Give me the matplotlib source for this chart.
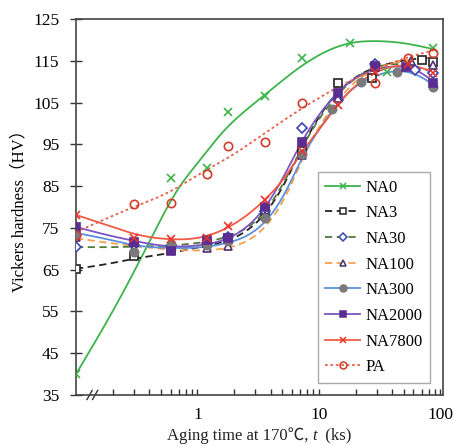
import numpy as np
import matplotlib
matplotlib.use("Agg")
import matplotlib.pyplot as plt
from matplotlib.lines import Line2D
from matplotlib.offsetbox import TextArea, HPacker, AnchoredOffsetbox

plt.rcParams['font.family'] = ['Liberation Serif', 'Noto Sans CJK JP', 'DejaVu Sans']

# t = 0 (as quenched) is drawn at the left end of the log axis
T0_POS = 0.1

# ---- measured points (aging time in ks, hardness in HV) ----
na0_t = [0, 0.6, 1.2, 1.8, 3.6, 7.2, 18, 36, 86.4]
na0_hv = [40.0, 87.0, 89.3, 102.7, 106.6, 115.7, 119.2, 112.3, 118.0]

na3_t = [0, 0.3, 0.6, 1.2, 1.8, 3.6, 7.2, 14.4, 27.5, 70, 86.4]
na3_hv = [65.2, 68.3, 69.8, 71.5, 72.5, 79.0, 93.5, 109.7, 110.9, 115.2, 114.7]

na30_t = [0, 0.3, 0.6, 1.2, 1.8, 3.6, 7.2, 14.4, 29, 62, 86.4]
na30_hv = [70.4, 70.9, 70.6, 71.5, 72.8, 79.0, 98.9, 105.6, 114.2, 112.8, 112.0]

na100_t = [0, 0.3, 0.6, 1.2, 1.8, 3.6, 7.2, 14.4, 28.8, 57.6, 86.4]
na100_hv = [72.8, 70.3, 70.0, 70.2, 70.7, 77.8, 92.4, 106.0, 113.5, 114.9, 114.0]

na300_t = [0, 0.3, 0.6, 1.2, 1.8, 3.6, 7.2, 12.7, 22, 44, 86.4]
na300_hv = [73.5, 69.2, 71.1, 70.9, 71.8, 77.4, 92.8, 103.5, 110.0, 112.3, 108.7]

na2000_t = [0, 0.3, 0.6, 1.2, 1.8, 3.6, 7.2, 14.4, 29, 52, 86.4]
na2000_hv = [75.2, 71.7, 69.5, 72.1, 72.6, 80.0, 95.6, 107.3, 113.8, 113.5, 109.7]

na7800_t = [0, 0.3, 0.6, 1.2, 1.8, 3.6, 7.2, 14.4, 29, 54, 86.4]
na7800_hv = [78.1, 72.6, 72.3, 72.5, 75.4, 81.7, 93.5, 104.4, 112.3, 114.2, 112.0]

pa_t = [0, 0.3, 0.6, 1.2, 1.8, 3.6, 7.2, 28.8, 54, 86.4]
pa_hv = [73.3, 80.7, 81.0, 87.9, 94.6, 95.6, 104.9, 109.7, 115.7, 116.9]

# ---- fitted curves ----
na0_fit_t = [0.1, 0.2, 0.3, 0.45, 0.7, 1.0, 1.6, 3.4, 7, 18, 30, 50, 90]
na0_fit_hv = [40, 55, 64.5, 74.5, 84.5, 90.5, 97.8, 106.3, 113.5, 119.2, 119.7, 119.2, 117.7]

pa_fit_t = [0.1, 0.3, 0.62, 1.0, 1.83, 3.6, 6.9, 14, 27, 50, 90]
pa_fit_hv = [74, 80, 84, 87.6, 92, 97.7, 103.2, 108.5, 112.5, 115.5, 117.6]

fit_t = [0.1, 0.2, 0.3, 0.6, 1.0, 1.8, 3.6, 5.5, 7.2, 10, 14.4, 20, 30, 45, 65, 90]
na3_fit = [65.2, 66.6, 67.6, 69.0, 70.3, 72.1, 78.5, 87, 94, 101.5, 107.5, 111, 113.5, 114.8, 115.5, 115.8]
na30_fit = [70.4, 70.4, 70.5, 70.8, 71.4, 73, 79, 87.5, 94, 101, 107, 110.8, 113.5, 114.2, 113.5, 112]
na100_fit = [72.5, 71.3, 70.7, 69.8, 69.6, 70.3, 75.3, 83.5, 91, 99, 105.5, 110, 113, 114.8, 115.4, 115.6]
na300_fit = [73.8, 72.0, 70.9, 70.2, 70.3, 71.5, 76.5, 84.5, 91.5, 98.5, 104.8, 108.8, 111.5, 112.5, 111.5, 109]
na2000_fit = [75.2, 73.0, 71.9, 70.6, 70.8, 72.6, 80, 89, 95.5, 102, 107.5, 110.8, 113, 113.6, 112.5, 109.8]
na7800_fit = [78.1, 75.2, 73.6, 72.3, 72.6, 75.2, 81.8, 88, 93, 98.5, 104.5, 109, 112.3, 113.8, 113.5, 112.2]


def smooth(t, v, n=300):
    # natural cubic spline in log10(t)
    x = np.log10(np.asarray(t, float))
    y = np.asarray(v, float)
    m = len(x)
    h = np.diff(x)
    A = np.zeros((m, m))
    r = np.zeros(m)
    A[0, 0] = A[-1, -1] = 1
    for i in range(1, m - 1):
        A[i, i - 1] = h[i - 1]
        A[i, i] = 2 * (h[i - 1] + h[i])
        A[i, i + 1] = h[i]
        r[i] = 3 * ((y[i + 1] - y[i]) / h[i] - (y[i] - y[i - 1]) / h[i - 1])
    c = np.linalg.solve(A, r)
    b = (y[1:] - y[:-1]) / h - h * (2 * c[:-1] + c[1:]) / 3
    d = (c[1:] - c[:-1]) / (3 * h)
    xs = np.linspace(x[0], x[-1], n)
    k = np.clip(np.searchsorted(x, xs, 'right') - 1, 0, m - 2)
    dx = xs - x[k]
    ys = y[k] + b[k] * dx + c[k] * dx ** 2 + d[k] * dx ** 3
    return 10 ** xs, ys


def pos(t):
    return [T0_POS if v == 0 else v for v in t]


series = [
    # label, pts t, pts hv, fit t, fit hv, line color, ls, marker, mfc, mec, ms
    ('NA0', na0_t, na0_hv, na0_fit_t, na0_fit_hv, '#3cb44b', '-', 'x', 'none', '#3cb44b', 6),
    ('NA3', na3_t, na3_hv, fit_t, na3_fit, '#222222', (0, (4, 2.5)), 's', 'white', '#222222', 6),
    ('NA30', na30_t, na30_hv, fit_t, na30_fit, '#4f7a3c', (0, (4, 2.5)), 'D', 'white', '#3b46b4', 5),
    ('NA100', na100_t, na100_hv, fit_t, na100_fit, '#f5a04a', (0, (4, 2.5)), '^', 'white', '#4b3173', 6),
    ('NA300', na300_t, na300_hv, fit_t, na300_fit, '#5b8fdc', '-', 'o', '#7a7a7a', '#7a7a7a', 6),
    ('NA2000', na2000_t, na2000_hv, fit_t, na2000_fit, '#7c55c2', '-', 's', '#5b2d91', '#5b2d91', 6),
    ('NA7800', na7800_t, na7800_hv, fit_t, na7800_fit, '#f25a44', '-', 'x', 'none', '#e8342c', 6),
    ('PA', pa_t, pa_hv, pa_fit_t, pa_fit_hv, '#e8604a', (0, (1.5, 1.5)), 'o', 'none', '#d23c2c', 6),
]

fig = plt.figure(figsize=(4.54, 4.45), dpi=100)
ax = fig.add_axes([0.1674, 0.1124, 0.8084, 0.8449])

handles = []
for lab, pt, ph, ft, fh, lc, ls, mk, mfc, mec, ms in series:
    xs, ys = smooth(ft, fh)
    ax.plot(xs, ys, color=lc, ls=ls, lw=1.3, zorder=2)
    ax.plot(pos(pt), ph, ls='none', marker=mk, ms=ms, mfc=mfc, mec=mec, mew=1.2, zorder=3)
    handles.append(Line2D([], [], color=lc, ls=ls, lw=1.3, marker=mk, ms=ms - 1,
                          mfc=mfc, mec=mec, mew=1.1))

ax.set_xscale('log')
ax.set_xlim(0.1, 105)
ax.set_ylim(35, 125)
ax.set_yticks(np.arange(35, 126, 10))
ax.set_xticks([1, 10, 100])
ax.set_xticklabels(['1', '10', '100'])
ax.set_xticks([v * 10.0 ** e for e in (-1, 0, 1) for v in range(2, 10)], minor=True)
ax.xaxis.set_minor_formatter(plt.NullFormatter())
ax.tick_params(axis='x', which='both', direction='in', length=4, width=1, color='#333333',
               labelsize=12.5, pad=9)
ax.tick_params(axis='y', direction='inout', length=8, width=1, color='#333333',
               labelsize=12.5, pad=8)
for s in ax.spines.values():
    s.set_color('#444444')
    s.set_linewidth(1.2)

# axis break marks
for x0 in (0.030, 0.045):
    ax.plot([x0, x0 + 0.014], [-0.012, 0.012], transform=ax.transAxes, color='#333333',
            lw=1, clip_on=False)

ax.set_ylabel('Vickers hardness（HV）', fontsize=12, labelpad=4)

# x label built from pieces so that ℃ and the italic t both render
fam = ['Liberation Serif', 'Noto Sans CJK JP', 'DejaVu Sans']
parts = [TextArea('Aging time at 170℃, ', textprops=dict(family=fam, size=12, color='#222222')),
         TextArea('t', textprops=dict(family=fam, size=12, style='italic', color='#222222')),
         TextArea('  (ks)', textprops=dict(family=fam, size=12, color='#222222'))]
box = HPacker(children=parts, align='baseline', pad=0, sep=0)
anch = AnchoredOffsetbox(loc='upper center', child=box, pad=0, frameon=False,
                         bbox_to_anchor=(0.5, -0.085), bbox_transform=ax.transAxes,
                         borderpad=0)
ax.add_artist(anch)

ax.legend(handles, [s[0] for s in series], loc='upper left', bbox_to_anchor=(0.659, 0.593),
          borderaxespad=0, fancybox=False, edgecolor='#aaaaaa', framealpha=1,
          fontsize=12, labelspacing=0.58, handlelength=2.1, handletextpad=0.3,
          borderpad=0.45)

fig.savefig('out.png', dpi=100)
